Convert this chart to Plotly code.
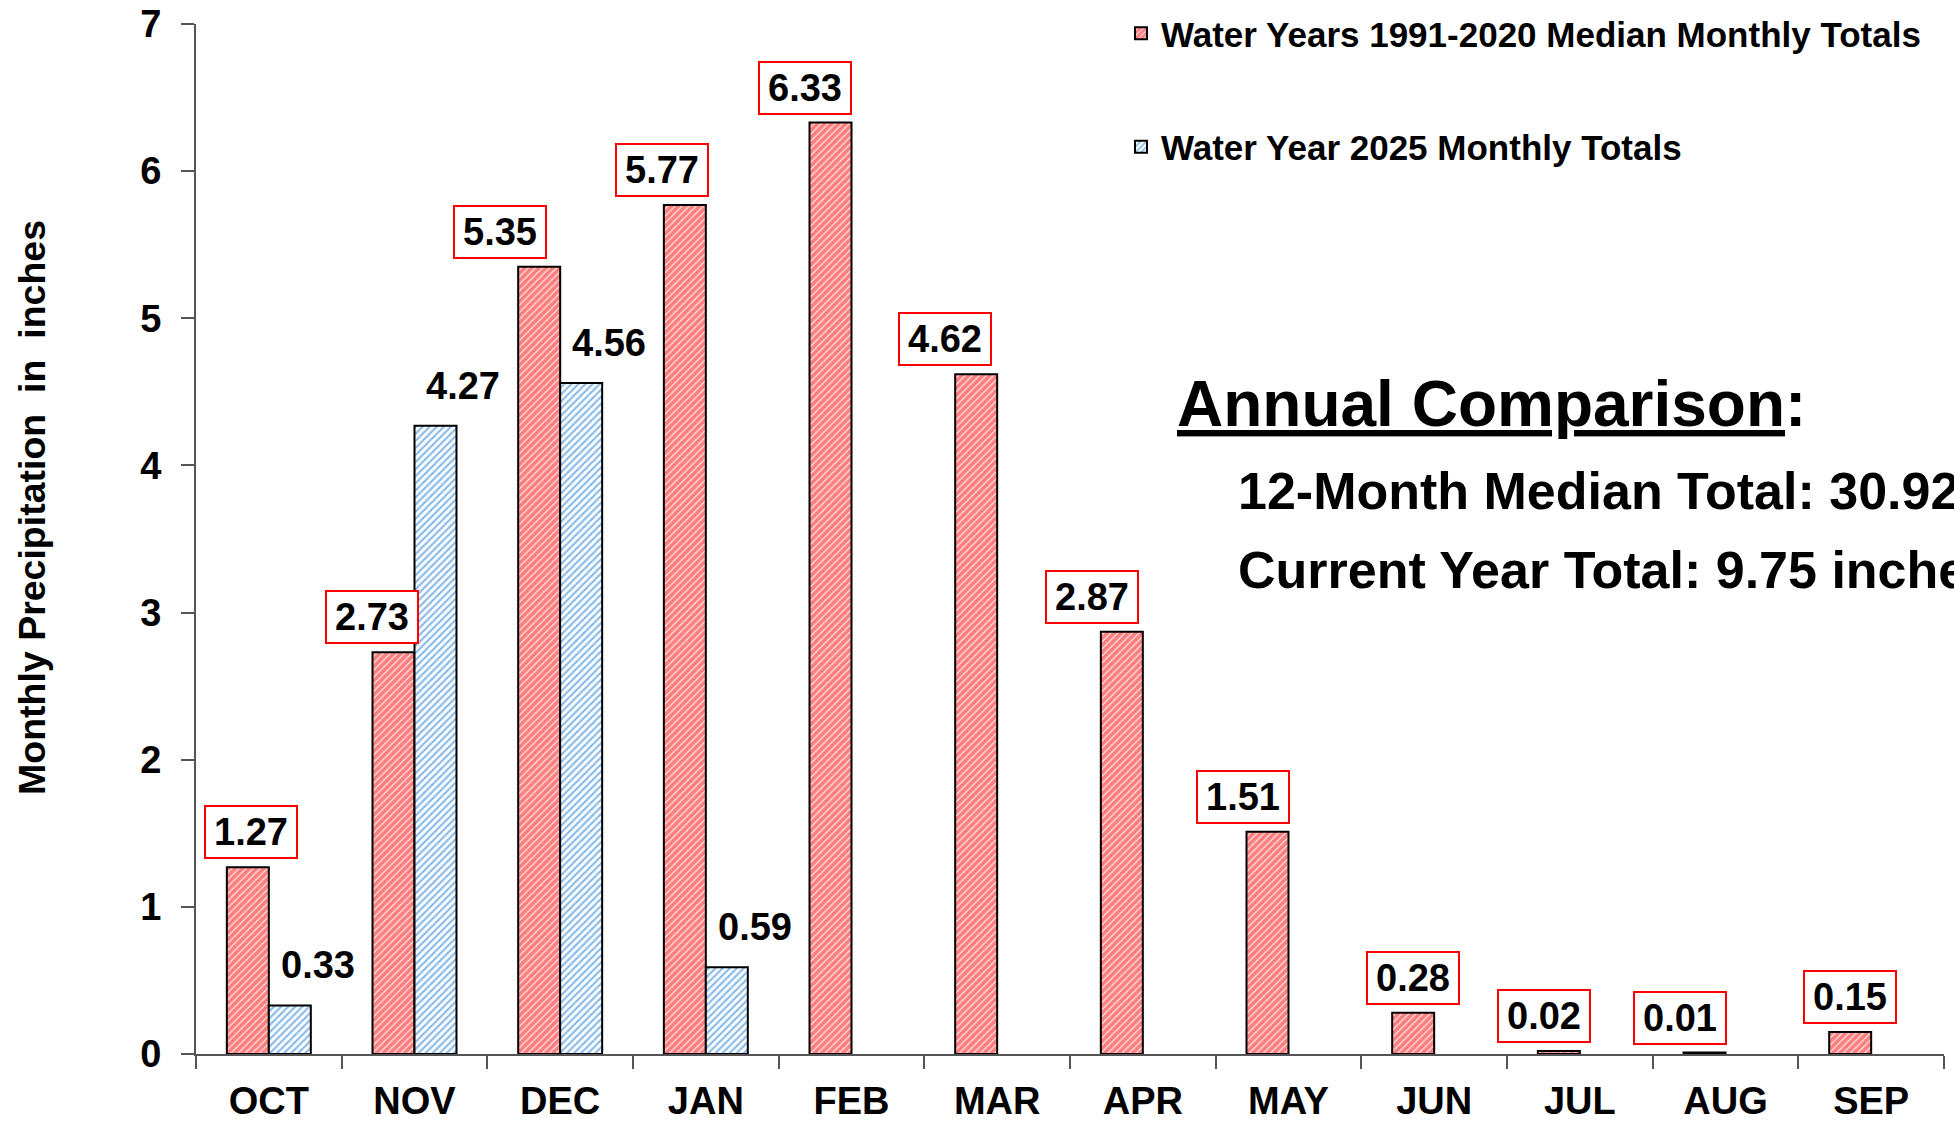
import plotly.graph_objects as go

# ---------------- data ----------------
months = ["OCT", "NOV", "DEC", "JAN", "FEB", "MAR", "APR", "MAY", "JUN", "JUL", "AUG", "SEP"]
median_1991_2020 = [1.27, 2.73, 5.35, 5.77, 6.33, 4.62, 2.87, 1.51, 0.28, 0.02, 0.01, 0.15]
wy2025_months = ["OCT", "NOV", "DEC", "JAN"]
wy2025 = [0.33, 4.27, 4.56, 0.59]
y_ticks = [0, 1, 2, 3, 4, 5, 6, 7]
median_name = "Water Years 1991-2020 Median Monthly Totals"
wy2025_name = "Water Year 2025 Monthly Totals"

# label nudges (pixels, styling only)
median_label_dx = [3, -22, -39, -23, -26, -31, -30, -25, 0, -15, -25, 0]

# ---------------- layout constants ----------------
W, H = 1954, 1123
ML, MR, MT, MB = 196, 10, 24, 69
BARGAP = 0.4235
FONT = "Liberation Sans, Arial, sans-serif"
plot_w = W - ML - MR
plot_h = H - MT - MB
cat_px = plot_w / len(months)
half_bar = cat_px * (1 - BARGAP) / 4


def px_x(px):  # pixel -> paper x
    return (px - ML) / plot_w


def px_y(py):  # pixel -> paper y
    return (H - MB - py) / plot_h


fig = go.Figure()
fig.add_trace(go.Bar(
    x=months, y=median_1991_2020, name=median_name, legendgroup="a",
    marker=dict(color="white", line=dict(color="black", width=2),
                pattern=dict(shape="/", fgcolor="#ff0000", bgcolor="white",
                             size=5, solidity=0.8)),
))
fig.add_trace(go.Bar(
    x=wy2025_months, y=wy2025, name=wy2025_name, legendgroup="b",
    marker=dict(color="white", line=dict(color="black", width=2),
                pattern=dict(shape="/", fgcolor="#1a78d0", bgcolor="white",
                             size=5, solidity=0.45)),
))

annotations = []
for m, v, dx in zip(months, median_1991_2020, median_label_dx):
    annotations.append(dict(
        x=m, y=v, xref="x", yref="y", text=f"{v:.2f}", showarrow=False,
        xshift=-half_bar + dx, yshift=8, yanchor="bottom", xanchor="center",
        font=dict(family=FONT, size=38, color="black", weight="bold"),
        bordercolor="#ff0000", borderwidth=2, borderpad=2, bgcolor="white",
        width=86, height=46,
    ))
for m, v in zip(wy2025_months, wy2025):
    annotations.append(dict(
        x=m, y=v, xref="x", yref="y", text=f"{v:.2f}", showarrow=False,
        xshift=half_bar + 28, yshift=40, yanchor="middle", xanchor="center",
        font=dict(family=FONT, size=38, color="black", weight="bold"),
    ))

# y axis title
annotations.append(dict(
    x=px_x(32), y=px_y(508), xref="paper", yref="paper",
    text="Monthly Precipitation  in  inches", textangle=-90, showarrow=False,
    xanchor="center", yanchor="middle",
    font=dict(family=FONT, size=37.5, color="black", weight="bold"),
))

# annual comparison text
annotations.append(dict(
    x=px_x(1175), y=px_y(404), xref="paper", yref="paper",
    text="<u>Annual Comparison</u>:", showarrow=False, xanchor="left", yanchor="middle",
    font=dict(family=FONT, size=64, color="black", weight="bold"),
))
annotations.append(dict(
    x=px_x(1236), y=px_y(491), xref="paper", yref="paper",
    text="12-Month Median Total: 30.92 inches", showarrow=False, xanchor="left", yanchor="middle",
    font=dict(family=FONT, size=52, color="black", weight="bold"),
))
annotations.append(dict(
    x=px_x(1236), y=px_y(570), xref="paper", yref="paper",
    text="Current Year Total: 9.75 inches", showarrow=False, xanchor="left", yanchor="middle",
    font=dict(family=FONT, size=52, color="black", weight="bold"),
))

fig.update_layout(
    width=W, height=H,
    margin=dict(l=ML, r=MR, t=MT, b=MB, pad=0, autoexpand=False),
    paper_bgcolor="white", plot_bgcolor="white",
    barmode="group", bargap=BARGAP, bargroupgap=0,
    showlegend=True,
    legend=dict(
        x=px_x(1121), y=px_y(4), xanchor="left", yanchor="top",
        traceorder="grouped", tracegroupgap=65,
        font=dict(family=FONT, size=35, color="black", weight="bold"),
        bgcolor="rgba(0,0,0,0)",
    ),
    annotations=annotations,
    font=dict(family=FONT, color="black"),
)
fig.update_xaxes(
    type="category", categoryorder="array", categoryarray=months,
    range=[-0.5, 11.5],
    showline=True, linecolor="#555555", linewidth=2,
    ticks="outside", tickson="boundaries", ticklen=13, tickwidth=2, tickcolor="#555555",
    tickfont=dict(family=FONT, size=38, color="black", weight="bold"),
    ticklabelstandoff=12,
    showgrid=False, zeroline=False,
)
fig.update_yaxes(
    range=[0, 7], tickvals=y_ticks, ticktext=[str(t) for t in y_ticks],
    showline=True, linecolor="#555555", linewidth=2,
    ticks="outside", ticklen=13, tickwidth=2, tickcolor="#555555",
    tickfont=dict(family=FONT, size=38, color="black", weight="bold"),
    ticklabelstandoff=12,
    showgrid=False, zeroline=False,
)

# remove the default 8px page margin so the figure sits at the window origin
fig.write_html("out.html",
               config={"displayModeBar": False},
               post_script="document.body.style.margin='0';document.body.style.padding='0';")
